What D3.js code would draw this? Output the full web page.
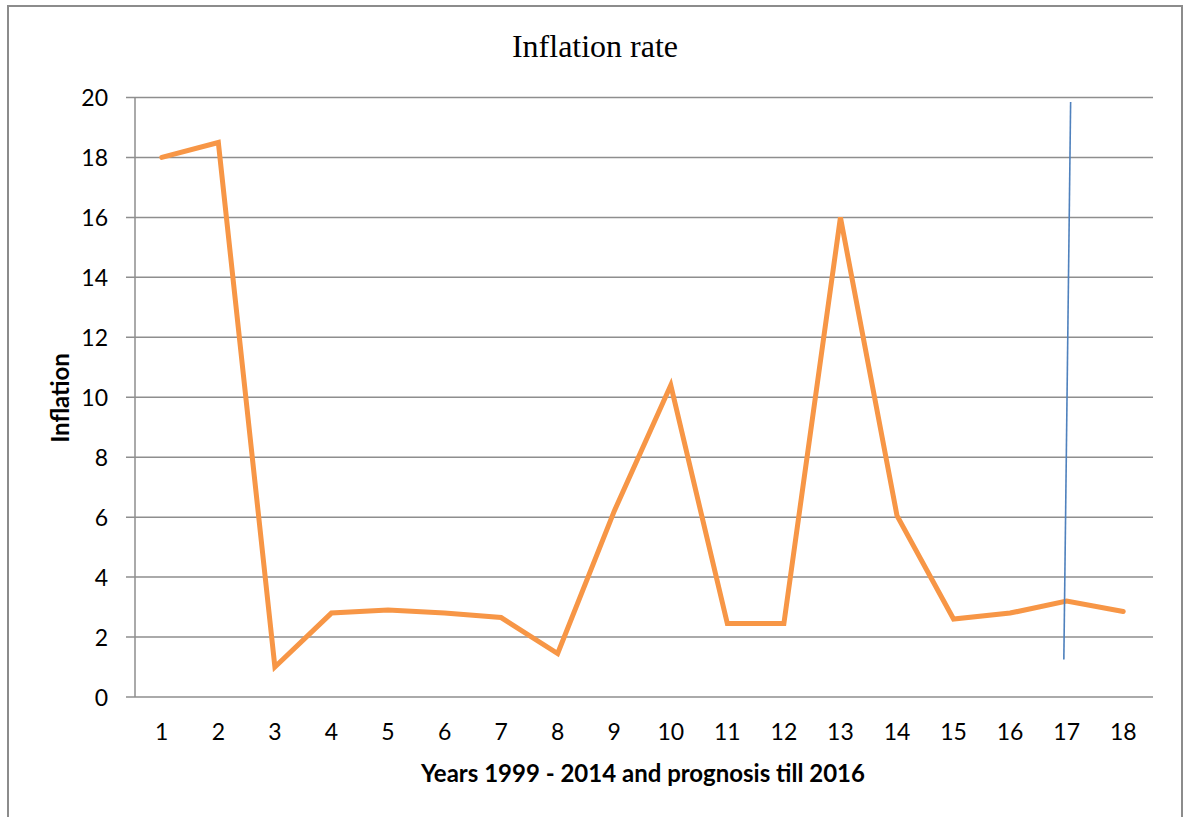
<!DOCTYPE html>
<html><head><meta charset="utf-8">
<script src="https://cdn.jsdelivr.net/npm/d3@7"></script>
<style>body{margin:0;background:#fff}svg{display:block}</style>
</head><body>
<script>
const categories = ["1","2","3","4","5","6","7","8","9","10","11","12","13","14","15","16","17","18"];
const inflation = [18, 18.5, 1, 2.8, 2.9, 2.8, 2.65, 1.45, 6.2, 10.4, 2.45, 2.45, 16, 6.05, 2.6, 2.8, 3.2, 2.85];
const yTicks = [0,2,4,6,8,10,12,14,16,18,20];
// hand-drawn marker line: [category position offset, value]
const markerLine = [{cat:"17", dx:0.07, v:19.85}, {cat:"17", dx:-0.05, v:1.25}];
const title = "Inflation rate";
const xTitle = "Years 1999 - 2014 and prognosis till 2016";
const yTitle = "Inflation";

const W = 1188, H = 817;
const svg = d3.select("body").append("svg").attr("width", W).attr("height", H);
const m = {left:135, right:1153, top:97.5, bottom:697};

svg.append("rect").attr("x",8).attr("y",6).attr("width",1174).attr("height",830)
  .attr("fill","none").attr("stroke","#8c8c8c").attr("stroke-width",2);

const x = d3.scaleBand().domain(categories).range([m.left, m.right]);
const y = d3.scaleLinear().domain([0,20]).range([m.bottom, m.top]);

// gridlines
svg.append("g").selectAll("line").data(yTicks).join("line")
  .attr("x1", m.left-9).attr("x2", m.right)
  .attr("y1", d=>y(d)).attr("y2", d=>y(d))
  .attr("stroke","#8e8e8e").attr("stroke-width",1.5);
// y axis line
svg.append("line").attr("x1",m.left).attr("x2",m.left).attr("y1",m.top).attr("y2",m.bottom)
  .attr("stroke","#8e8e8e").attr("stroke-width",1.5);

const tickFont = "Lato, 'Open Sans', sans-serif";
const yAxis = d3.axisLeft(y).tickValues(yTicks).tickSize(0).tickPadding(0);
const gy = svg.append("g").attr("transform",`translate(${m.left-27},0)`).call(yAxis);
gy.select(".domain").remove();
gy.selectAll("text").attr("font-family",tickFont).attr("font-size",23).attr("fill","#000").attr("dy","0.35em");

const xAxis = d3.axisBottom(x).tickSize(0).tickPadding(0);
const gx = svg.append("g").attr("transform",`translate(-1.5,${m.bottom+35})`).call(xAxis);
gx.select(".domain").remove();
gx.selectAll("text").attr("font-family",tickFont).attr("font-size",23).attr("fill","#000").attr("dy","0.35em");

const line = d3.line().x((d,i)=>x(categories[i])+x.bandwidth()/2 - 1.5).y(d=>y(d));
svg.append("path").datum(inflation).attr("d",line).attr("fill","none")
  .attr("stroke","#F79646").attr("stroke-width",5).attr("stroke-linejoin","miter").attr("stroke-linecap","round");

svg.append("line")
  .attr("x1", x(markerLine[0].cat)+x.bandwidth()*(0.5+markerLine[0].dx)-1.5)
  .attr("y1", y(markerLine[0].v))
  .attr("x2", x(markerLine[1].cat)+x.bandwidth()*(0.5+markerLine[1].dx)-1.5)
  .attr("y2", y(markerLine[1].v))
  .attr("stroke","#4F81BD").attr("stroke-width",1.6);

svg.append("text").attr("x",595).attr("y",57).attr("text-anchor","middle")
  .attr("font-family","'Liberation Serif', 'Times New Roman', serif").attr("font-size",32).text(title);
svg.append("text").attr("x",643).attr("y",782).attr("text-anchor","middle")
  .attr("font-family",tickFont).attr("font-weight","bold").attr("font-size",24).text(xTitle);
svg.append("text").attr("transform","translate(69,398) rotate(-90)").attr("text-anchor","middle")
  .attr("font-family",tickFont).attr("font-weight","bold").attr("font-size",24).text(yTitle);
</script>
</body></html>
